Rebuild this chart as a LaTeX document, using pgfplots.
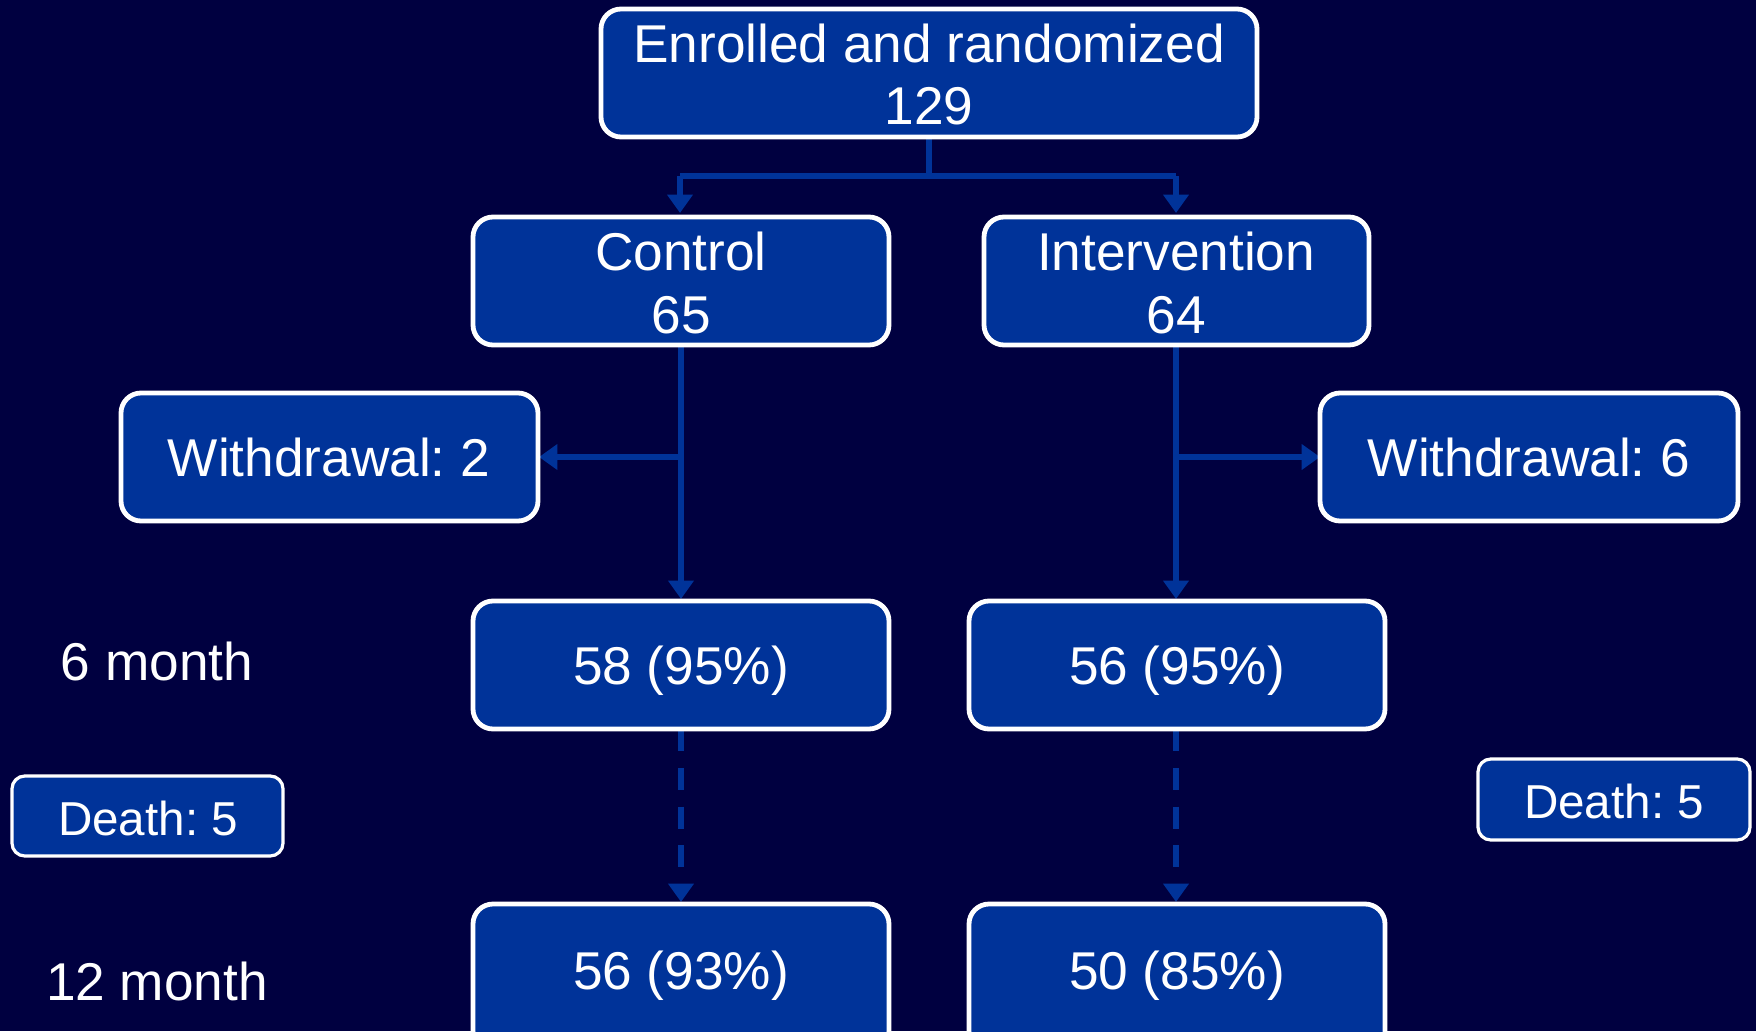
\documentclass[border=0pt]{standalone}
\usepackage{pgfplots}
\pgfplotsset{compat=1.18}
\usepackage{fontspec}
\setmainfont{Liberation Sans}
\usetikzlibrary{arrows.meta}
\definecolor{bg}{HTML}{000040}
\definecolor{boxfill}{HTML}{003399}
\definecolor{lineblue}{HTML}{003399}
\frenchspacing
\begin{document}
\begin{tikzpicture}[
  bx/.style={draw=white, line width=1.2pt, fill=boxfill, rounded corners=5pt},
  sbx/.style={draw=white, line width=0.8pt, fill=boxfill, rounded corners=3.2pt},
  lbl/.style={text=white, font=\fontsize{13.3}{16}\selectfont, align=center, inner sep=0pt},
  slbl/.style={text=white, font=\fontsize{11.9}{14}\selectfont, align=center, inner sep=0pt},
  conn/.style={draw=lineblue, line width=1.4pt, -{Triangle[width=6.2pt,length=4.6pt]}},
]
\begin{axis}[
  width=439pt, height=257.75pt, scale only axis,
  xmin=0, xmax=1756, ymin=0, ymax=1031,
  axis lines=none, ticks=none,
  axis background/.style={fill=bg},
  clip=true,
]
% y values are 1031 - (pixel row)
\addplot[draw=lineblue, line width=1.4pt, no marks] coordinates {(929,894) (929,855)};
\addplot[draw=lineblue, line width=1.4pt, no marks] coordinates {(680,855) (1176,855)};
\draw[conn] (axis cs:680,855) -- (axis cs:680,818);
\draw[conn] (axis cs:1176,855) -- (axis cs:1176,818);
\draw[conn] (axis cs:681,686) -- (axis cs:681,432);
\draw[conn] (axis cs:681,574) -- (axis cs:539,574);
\draw[conn] (axis cs:1176,686) -- (axis cs:1176,432);
\draw[conn] (axis cs:1176,574) -- (axis cs:1320,574);
\draw[conn, dash pattern=on 5.5pt off 4.2pt] (axis cs:681,302) -- (axis cs:681,129);
\draw[conn, dash pattern=on 5.5pt off 4.2pt] (axis cs:1176,302) -- (axis cs:1176,129);
% boxes
\draw[bx] (axis cs:601,1022) rectangle (axis cs:1257,894);
\node[lbl] at (axis cs:929,988) {Enrolled and randomized};
\node[lbl] at (axis cs:929,925) {129};
\draw[bx] (axis cs:473,814) rectangle (axis cs:889,686);
\node[lbl] at (axis cs:681,780) {Control};
\node[lbl] at (axis cs:681,716) {65};
\draw[bx] (axis cs:984,814) rectangle (axis cs:1369,686);
\node[lbl] at (axis cs:1176,780) {Intervention};
\node[lbl] at (axis cs:1176,716) {64};
\draw[bx] (axis cs:121,638) rectangle (axis cs:538,510);
\node[lbl] at (axis cs:329,574) {Withdrawal: 2};
\draw[bx] (axis cs:1320,638) rectangle (axis cs:1738,510);
\node[lbl] at (axis cs:1529,574) {Withdrawal: 6};
\draw[bx] (axis cs:473,430) rectangle (axis cs:889,302);
\node[lbl] at (axis cs:681,360) {58 (95\%)};
\draw[bx] (axis cs:969,430) rectangle (axis cs:1385,302);
\node[lbl] at (axis cs:1177,360) {56 (95\%)};
\node[lbl] at (axis cs:157,370) {6 month};
\draw[sbx] (axis cs:12,255) rectangle (axis cs:283,175);
\node[slbl] at (axis cs:148,213) {Death: 5};
\draw[sbx] (axis cs:1478,272) rectangle (axis cs:1750,191);
\node[slbl] at (axis cs:1614,230) {Death: 5};
\draw[bx] (axis cs:473,127) rectangle (axis cs:889,-20);
\node[lbl] at (axis cs:681,55) {56 (93\%)};
\draw[bx] (axis cs:969,127) rectangle (axis cs:1385,-20);
\node[lbl] at (axis cs:1177,55) {50 (85\%)};
\node[lbl] at (axis cs:157,50) {12 month};
\end{axis}
\end{tikzpicture}
\end{document}
